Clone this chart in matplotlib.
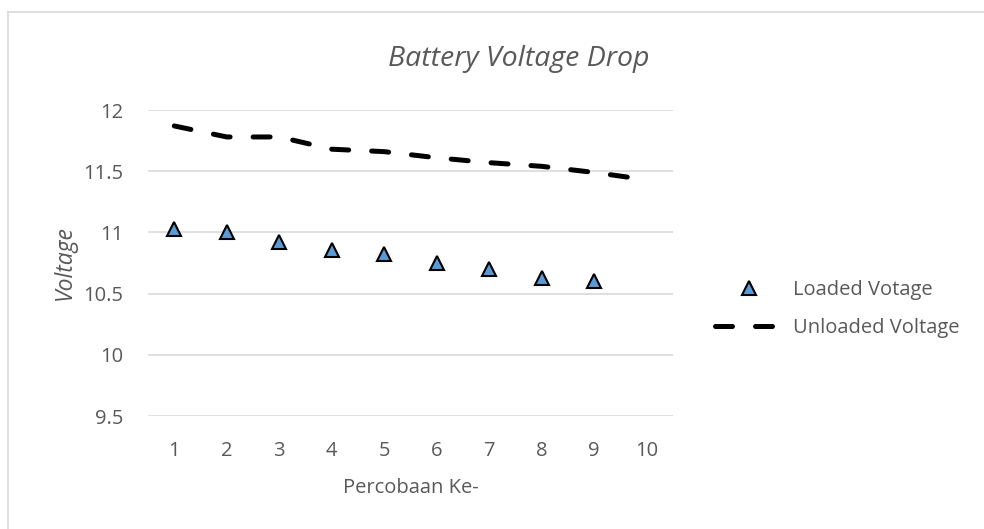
import matplotlib.pyplot as plt
from matplotlib.lines import Line2D

# Data
trials = [1, 2, 3, 4, 5, 6, 7, 8, 9, 10]
loaded_voltage = [11.03, 11.00, 10.92, 10.86, 10.82, 10.75, 10.70, 10.63, 10.60]
unloaded_voltage = [11.87, 11.78, 11.78, 11.68, 11.66, 11.61, 11.57, 11.54, 11.49, 11.43]
y_ticks = [9.5, 10, 10.5, 11, 11.5, 12]
y_tick_labels = ["9.5", "10", "10.5", "11", "11.5", "12"]

TEXT = "#595959"
GRID = "#D9D9D9"

plt.rcParams['font.family'] = ['Open Sans', 'DejaVu Sans']

fig = plt.figure(figsize=(9.84, 5.29), dpi=100)
ax = fig.add_axes([0.1504, 0.2136, 0.5335, 0.5784])

ax.plot(trials[:len(loaded_voltage)], loaded_voltage, linestyle='none', marker='^',
        markersize=10, markerfacecolor='#5B9BD5', markeredgecolor='black',
        markeredgewidth=1.5, label='Loaded Votage', zorder=3)
ax.plot(trials, unloaded_voltage, color='black', linewidth=3.6,
        linestyle=(0, (3.4, 4.6)), dash_capstyle='round',
        label='Unloaded Voltage', zorder=2)

ax.set_xlim(0.5, 10.5)
ax.set_ylim(9.5, 12)
ax.set_xticks(trials)
ax.set_xticklabels([str(t) for t in trials])
ax.set_yticks(y_ticks)
ax.set_yticklabels(y_tick_labels)
ax.grid(axis='y', color=GRID, linewidth=1.2)
ax.set_axisbelow(True)
for s in ax.spines.values():
    s.set_visible(False)
ax.tick_params(length=0, labelsize=14.5, colors=TEXT)
ax.tick_params(axis='y', pad=18)
ax.tick_params(axis='x', pad=18)

ax.set_xlabel("Percobaan Ke-", fontsize=14.5, color=TEXT, labelpad=12)
ax.set_ylabel("Voltage", fontsize=16.5, color=TEXT, style='italic', labelpad=4)
fig.text(0.527, 0.888, "Battery Voltage Drop", fontsize=20.5, style='italic',
         color=TEXT, ha='center', va='center')

leg = ax.legend(loc='center left', bbox_to_anchor=(1.045, 0.35), frameon=False,
                fontsize=14.5, handlelength=3.4, handletextpad=0.5,
                labelspacing=0.9, labelcolor=TEXT)

# light border around the chart area
fig.add_artist(Line2D([8 / 984, 1.0], [1 - 11.5 / 529, 1 - 11.5 / 529],
                      transform=fig.transFigure, color=GRID, linewidth=1.2))
fig.add_artist(Line2D([8 / 984, 8 / 984], [0, 1 - 11.5 / 529],
                      transform=fig.transFigure, color=GRID, linewidth=1.2))

fig.savefig("out.png", dpi=100)
